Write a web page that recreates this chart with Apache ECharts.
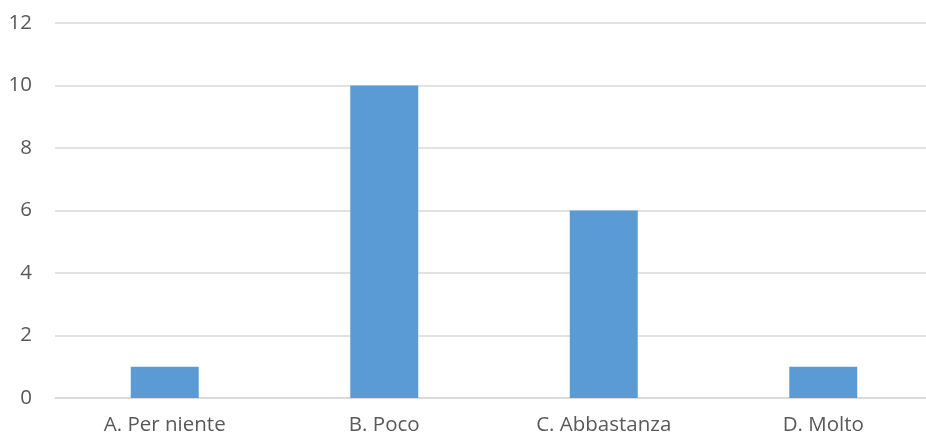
<!DOCTYPE html>
<html><head><meta charset="utf-8">
<script src="https://cdn.jsdelivr.net/npm/echarts@6/dist/echarts.min.js"></script>
<style>html,body{margin:0;padding:0;background:#fff;overflow:hidden;width:926px;height:439px;}#c{width:933px;height:439px;}</style>
</head><body><div id="c"></div>
<script>
const categories = ["A. Per niente", "B. Poco", "C. Abbastanza", "D. Molto"];
const values = [1, 10, 6, 1];
const yTicks = { min: 0, max: 12, interval: 2 };

const chart = echarts.init(document.getElementById('c'), null, {renderer: 'canvas'});
chart.setOption({
  animation: false,
  backgroundColor: '#ffffff',
  grid: { left: 55, top: 23, right: 0, height: 375, containLabel: false },
  xAxis: {
    type: 'category', data: categories,
    axisLine: { show: true, lineStyle: { color: '#d9d9d9', width: 1.5 } },
    axisTick: { show: false },
    axisLabel: { color: '#595959', fontSize: 20.5, fontFamily: '"Open Sans", sans-serif', margin: 17 }
  },
  yAxis: {
    type: 'value', min: yTicks.min, max: yTicks.max, interval: yTicks.interval,
    axisLine: { show: false }, axisTick: { show: false },
    splitLine: { lineStyle: { color: '#d9d9d9', width: 1.5 } },
    axisLabel: { color: '#595959', fontSize: 20.5, fontFamily: '"Open Sans", sans-serif', margin: 23 }
  },
  series: [{
    type: 'bar', data: values, barWidth: 68,
    itemStyle: { color: '#5b9bd5' }
  }]
});
</script></body></html>
